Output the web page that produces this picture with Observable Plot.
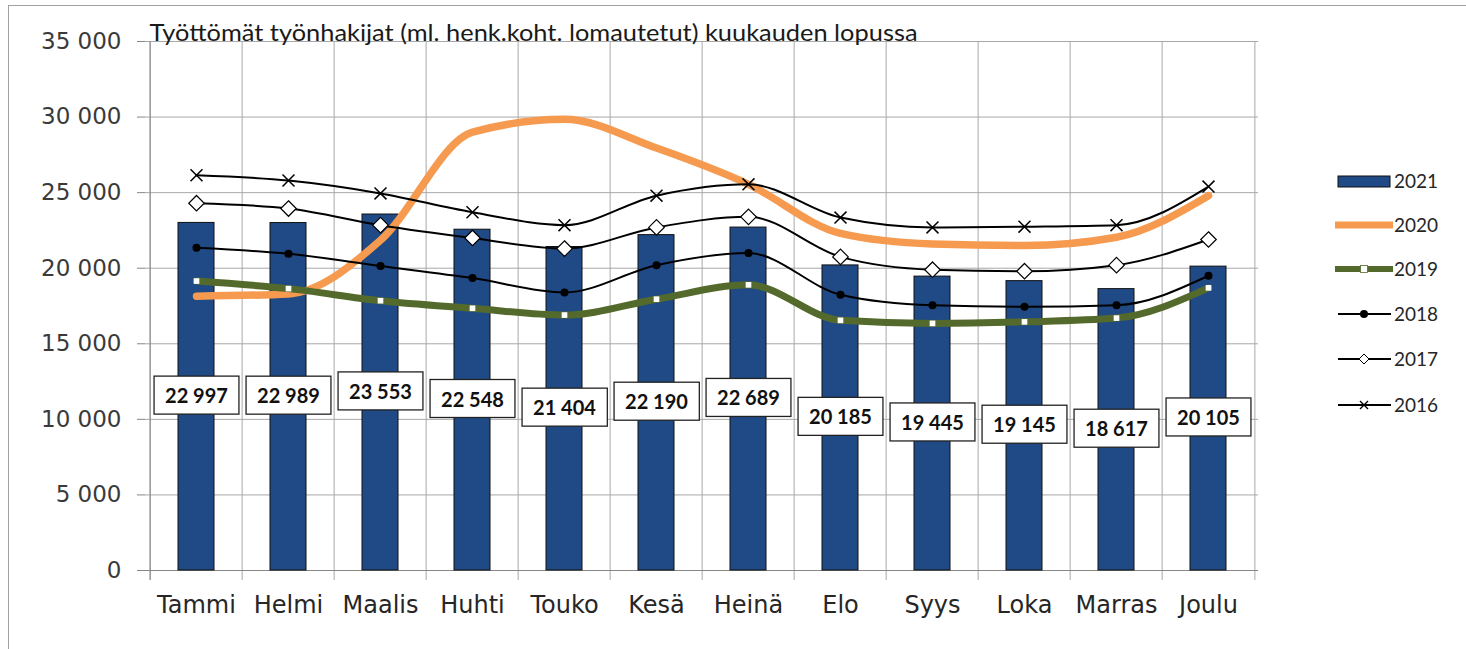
<!DOCTYPE html>
<html><head><meta charset="utf-8">
<script src="https://cdn.jsdelivr.net/npm/d3@7"></script>
<script src="https://cdn.jsdelivr.net/npm/@observablehq/plot@0.6"></script>
<style>
body{margin:0;background:#fff;}
#wrap{position:relative;width:1466px;height:649px;overflow:hidden;background:#fff;}
#frame{position:absolute;left:8px;top:5px;width:1470px;height:660px;border-left:1.5px solid #a0a0a0;border-top:1.5px solid #a0a0a0;}
#chart{position:absolute;left:0;top:0;}
#legend{position:absolute;left:1330px;top:160px;}
</style></head><body>
<div id="wrap"><div id="frame"></div><div id="chart"></div><svg id="legend" width="136" height="270"></svg></div>
<script>
const title = "Työttömät työnhakijat (ml. henk.koht. lomautetut) kuukauden lopussa";
const months = ["Tammi","Helmi","Maalis","Huhti","Touko","Kesä","Heinä","Elo","Syys","Loka","Marras","Joulu"];
const yTicks = [0,5000,10000,15000,20000,25000,30000,35000];
const v2021 = [22997,22989,23553,22548,21404,22190,22689,20185,19445,19145,18617,20105];
const v2020 = [18150,18300,21850,29000,29850,27950,25550,22300,21600,21500,22050,24800];
const v2019 = [19150,18650,17850,17350,16900,17950,18900,16550,16350,16450,16700,18700];
const v2018 = [21350,20950,20150,19350,18400,20200,21000,18250,17550,17450,17550,19500];
const v2017 = [24300,23950,22850,22000,21300,22700,23400,20750,19900,19800,20200,21900];
const v2016 = [26150,25800,24950,23700,22850,24800,25550,23350,22700,22750,22850,25400];

const fmt = d3.formatLocale({decimal:",",thousands:" ",grouping:[3],currency:["",""]}).format(",");
const rows = (vals) => months.map((m,i) => ({month:m, value:vals[i]}));
const bars = rows(v2021);

const W = 1466, H = 649, ML = 145, MR = 208, MT = 41, MB = 79;
const bw = (W - ML - MR) / months.length;
const gridC = "#a8a8a8", axisC = "#868686";
const curve = "monotone-x";

const chart = Plot.plot({
  width: W, height: H,
  marginLeft: ML, marginRight: MR, marginTop: MT, marginBottom: MB,
  style: {fontFamily: "DejaVu Sans", fontSize: "23px", color: "#3a3a3a", background: "transparent"},
  x: {type: "band", domain: months, padding: 0},
  y: {domain: [0, 35000]},
  marks: [
    Plot.ruleY(yTicks.filter(d => d > 0), {stroke: gridC, strokeWidth: 1}),
    Plot.ruleX(months, {x: d => d, dx: -bw/2, stroke: gridC, insetBottom: -10}),
    Plot.ruleX([months[0]], {x: d => d, dx: -bw/2, stroke: axisC, insetBottom: -10}),
    Plot.ruleX([months[months.length-1]], {x: d => d, dx: bw/2, stroke: gridC, insetBottom: -10}),
    Plot.ruleY([0], {stroke: axisC}),
    Plot.axisY(yTicks, {tickSize: 8, tickPadding: 16, tickFormat: fmt, stroke: axisC, fill: "#3a3a3a", label: null}),
    Plot.axisX({tickSize: 0, tickPadding: 25, fill: "#262626", label: null, fontSize: 24}),
    Plot.barY(bars, {x: "month", y: "value", fill: "#1f4a85", stroke: "#111", strokeWidth: 1, insetLeft: 28, insetRight: 28}),
    Plot.line(rows(v2020), {x: "month", y: "value", stroke: "#f59a4f", strokeWidth: 7.5, curve}),
    Plot.line(rows(v2019), {x: "month", y: "value", stroke: "#546a2c", strokeWidth: 7, curve}),
    Plot.dot(rows(v2019), {x: "month", y: "value", symbol: "square", fill: "#fff", r: 3.2}),
    Plot.line(rows(v2018), {x: "month", y: "value", stroke: "#000", strokeWidth: 2, curve}),
    Plot.dot(rows(v2018), {x: "month", y: "value", fill: "#000", r: 4}),
    Plot.line(rows(v2017), {x: "month", y: "value", stroke: "#000", strokeWidth: 2, curve}),
    Plot.dot(rows(v2017), {x: "month", y: "value", symbol: "diamond2", fill: "#fff", stroke: "#000", strokeWidth: 1.2, r: 7}),
    Plot.line(rows(v2016), {x: "month", y: "value", stroke: "#000", strokeWidth: 2, curve}),
    Plot.dot(rows(v2016), {x: "month", y: "value", symbol: "times", stroke: "#000", strokeWidth: 1.5, r: 5.5}),
    Plot.text(bars, {x: "month", y: d => d.value / 2, text: d => fmt(d.value), className: "vlabels",
      fontFamily: "Lato", fontWeight: 700, fontSize: 20, fill: "#111"}),
    Plot.text([title], {frameAnchor: "top-left", textAnchor: "start", lineAnchor: "bottom", dx: 4, dy: -1,
      fontFamily: "Lato", fontSize: 24, fill: "#1a1a1a", className: "ttl"})
  ]
});
document.getElementById("chart").appendChild(chart);

// fit title width to the original
d3.select(chart).selectAll("g.ttl text").attr("textLength", 768).attr("lengthAdjust", "spacingAndGlyphs");

// white boxes behind bar value labels
d3.select(chart).selectAll("g.vlabels text").each(function() {
  const b = this.getBBox();
  const padX = 11, padY = 7;
  d3.select(this.parentNode).insert("rect", () => this)
    .attr("x", b.x - padX).attr("y", b.y - padY)
    .attr("width", b.width + 2*padX).attr("height", b.height + 2*padY)
    .attr("transform", this.getAttribute("transform"))
    .attr("fill", "#fff").attr("stroke", "#222").attr("stroke-width", 1.3);
});

// legend
const years = ["2021","2020","2019","2018","2017","2016"];
const lg = d3.select("#legend");
const rowY = [21,65,109,154,199,245];
years.forEach((yr, i) => {
  const g = lg.append("g").attr("transform", `translate(0,${rowY[i]})`);
  if (yr === "2021") g.append("rect").attr("x",8).attr("y",-5).attr("width",52).attr("height",11).attr("fill","#1f4a85").attr("stroke","#111");
  else if (yr === "2020") g.append("line").attr("x1",5).attr("x2",63).attr("stroke","#f59a4f").attr("stroke-width",7);
  else if (yr === "2019") { g.append("line").attr("x1",5).attr("x2",63).attr("stroke","#546a2c").attr("stroke-width",6);
    g.append("rect").attr("x",30.5).attr("y",-3.5).attr("width",7).attr("height",7).attr("fill","#fff").attr("stroke","#546a2c").attr("stroke-width",0.8); }
  else {
    g.append("line").attr("x1",8).attr("x2",61).attr("stroke","#000").attr("stroke-width",2);
    if (yr === "2018") g.append("circle").attr("cx",34).attr("r",4).attr("fill","#000");
    if (yr === "2017") g.append("path").attr("d","M34,-5L39,0L34,5L29,0Z").attr("fill","#fff").attr("stroke","#000");
    if (yr === "2016") g.append("path").attr("d","M30,-4L38,4M30,4L38,-4").attr("stroke","#000").attr("stroke-width",1.4);
  }
  g.append("text").attr("x",64).attr("y",0).attr("dy","0.36em").text(yr)
    .attr("font-family","Lato").attr("font-size",19).attr("fill","#262626");
});
</script>
</body></html>
